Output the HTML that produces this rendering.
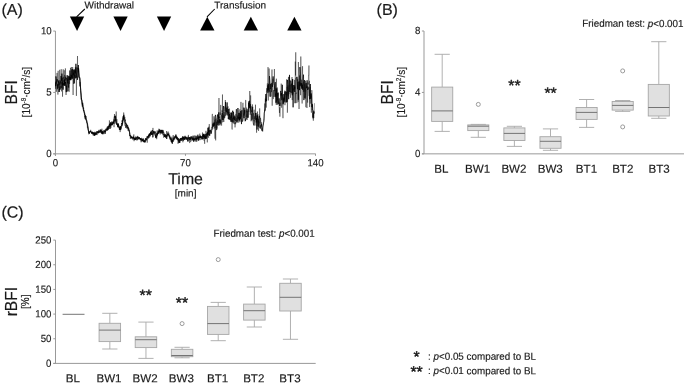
<!DOCTYPE html>
<html lang="en">
<head>
<meta charset="utf-8">
<title>Figure</title>
<style>
html,body{margin:0;padding:0;background:#fff;}
body{width:685px;height:385px;overflow:hidden;}
svg{display:block;font-family:"Liberation Sans",sans-serif;}
text{stroke:#1a1a1a;stroke-width:0.17px;stroke-linejoin:round;}
text.st{stroke-width:0.42px;}
text.sm{stroke-width:0.15px;}
</style>
</head>
<body>
<svg width="685" height="385" viewBox="0 0 685 385">
<rect width="685" height="385" fill="#fff"/>
<text transform="translate(1.40 14.90) rotate(0.04)" font-size="16" text-anchor="start" fill="#1a1a1a" >(A)</text>
<line x1="55.45" y1="31.05" x2="55.45" y2="155.85" stroke="#999" stroke-width="1"/>
<line x1="53.25" y1="153.85" x2="315.7" y2="153.85" stroke="#999" stroke-width="1"/>
<line x1="53.25" y1="153.85" x2="55.45" y2="153.85" stroke="#999" stroke-width="1"/>
<text transform="translate(51.70 157.00) rotate(0.04) scale(0.94 1)" font-size="10.3" text-anchor="end" fill="#1a1a1a" class="sm">0</text>
<line x1="53.25" y1="92.44999999999999" x2="55.45" y2="92.44999999999999" stroke="#999" stroke-width="1"/>
<text transform="translate(51.70 95.60) rotate(0.04) scale(0.94 1)" font-size="10.3" text-anchor="end" fill="#1a1a1a" class="sm">5</text>
<line x1="53.25" y1="31.049999999999997" x2="55.45" y2="31.049999999999997" stroke="#999" stroke-width="1"/>
<text transform="translate(51.70 34.20) rotate(0.04) scale(0.94 1)" font-size="10.3" text-anchor="end" fill="#1a1a1a" class="sm">10</text>
<line x1="55.45" y1="153.85" x2="55.45" y2="155.85" stroke="#999" stroke-width="1"/>
<text transform="translate(55.45 166.20) rotate(0.04) scale(0.94 1)" font-size="10.3" text-anchor="middle" fill="#1a1a1a" class="sm">0</text>
<line x1="185.47500000000002" y1="153.85" x2="185.47500000000002" y2="155.85" stroke="#999" stroke-width="1"/>
<text transform="translate(185.48 166.20) rotate(0.04) scale(0.94 1)" font-size="10.3" text-anchor="middle" fill="#1a1a1a" class="sm">70</text>
<line x1="315.5" y1="153.85" x2="315.5" y2="155.85" stroke="#999" stroke-width="1"/>
<text transform="translate(315.50 166.20) rotate(0.04) scale(0.94 1)" font-size="10.3" text-anchor="middle" fill="#1a1a1a" class="sm">140</text>
<polygon points="69.89999999999999,16.6 84.2,16.6 77.05,30.9" fill="#000"/>
<polygon points="113.39999999999999,16.6 127.7,16.6 120.55,30.9" fill="#000"/>
<polygon points="156.9,16.6 171.20000000000002,16.6 164.05,30.9" fill="#000"/>
<polygon points="200.15,30.6 214.45000000000002,30.6 207.3,16.8" fill="#000"/>
<polygon points="243.7,30.6 258.0,30.6 250.85,16.8" fill="#000"/>
<polygon points="287.25,30.6 301.54999999999995,30.6 294.4,16.8" fill="#000"/>
<line x1="76.6" y1="16.9" x2="84.8" y2="9.0" stroke="#000" stroke-width="1.05"/>
<line x1="207.0" y1="16.9" x2="214.7" y2="9.0" stroke="#000" stroke-width="1.05"/>
<text transform="translate(84.50 8.50) rotate(0.04)" font-size="10.0" text-anchor="start" fill="#1a1a1a" >Withdrawal</text>
<text transform="translate(214.30 8.50) rotate(0.04)" font-size="10.0" text-anchor="start" fill="#1a1a1a" >Transfusion</text>
<text transform="translate(17.1 92.4) rotate(-90)" font-size="15.6" text-anchor="middle" fill="#1a1a1a" >BFI</text>
<text transform="translate(29.9 92.2) rotate(-90)" font-size="10.0" text-anchor="middle" fill="#1a1a1a" >[10<tspan font-size="6.4" dy="-3.7">-9</tspan><tspan dy="3.7">·cm</tspan><tspan font-size="6.4" dy="-3.7">2</tspan><tspan dy="3.7">/s]</tspan></text>
<text transform="translate(185.60 184.20) rotate(0.04)" font-size="15.9" text-anchor="middle" fill="#1a1a1a" >Time</text>
<text transform="translate(185.60 196.50) rotate(0.04)" font-size="10.0" text-anchor="middle" fill="#1a1a1a" >[min]</text>
<polyline points="55.50,88.8 55.80,82.4 56.10,81.8 56.40,82.0 56.70,84.1 57.00,84.1 57.30,89.2 57.60,84.4 57.90,87.9 58.20,81.3 58.50,82.4 58.80,83.1 59.10,82.4 59.40,87.0 59.70,89.9 60.00,87.6 60.30,86.8 60.60,86.9 60.90,86.5 61.20,87.8 61.50,87.5 61.80,85.2 62.10,81.8 62.40,84.8 62.70,84.1 63.00,85.3 63.30,83.0 63.60,84.8 63.90,84.4 64.20,84.9 64.50,83.1 64.80,83.6 65.10,80.0 65.40,79.1 65.70,76.7 66.00,79.6 66.30,79.1 66.60,78.3 66.90,78.6 67.20,75.0 67.50,81.7 67.80,82.8 68.10,78.7 68.40,75.8 68.70,78.7 69.00,79.4 69.30,76.1 69.60,77.1 69.90,79.5 70.20,77.3 70.50,77.4 70.80,80.2 71.10,75.5 71.40,74.8 71.70,77.8 72.00,75.1 72.30,79.1 72.60,69.1 72.90,70.2 73.20,74.2 73.50,74.6 73.80,71.5 74.10,70.1 74.40,73.4 74.70,76.7 75.00,71.0 75.30,72.5 75.60,70.8 75.90,68.1 76.20,74.0 76.50,77.7 76.80,73.7 77.10,73.8 77.40,71.5 77.70,70.2 78.00,68.1 78.30,72.3 78.60,68.4 78.90,72.3 79.20,75.9 79.50,78.0 79.80,78.2 80.10,83.0 80.40,86.3 80.70,90.7 81.00,93.9 81.30,98.7 81.60,100.8 81.90,101.9 82.20,104.2 82.50,104.1 82.80,106.9 83.10,107.7 83.40,109.5 83.70,110.7 84.00,111.7 84.30,112.7 84.60,114.8 84.90,115.2 85.20,117.9 85.50,117.9 85.80,117.8 86.10,119.3 86.40,120.8 86.70,121.9 87.00,123.5 87.30,123.6 87.60,126.1 87.90,127.2 88.20,129.5 88.50,131.1 88.80,134.2 89.10,134.0 89.40,133.3 89.70,132.3 90.00,131.3 90.30,131.9 90.60,131.2 90.90,131.4 91.20,132.5 91.50,133.5 91.80,132.4 92.10,133.7 92.40,131.8 92.70,133.4 93.00,134.2 93.30,133.2 93.60,133.2 93.90,134.3 94.20,133.3 94.50,134.6 94.80,133.4 95.10,135.0 95.40,134.2 95.70,133.8 96.00,133.0 96.30,134.6 96.60,133.4 96.90,132.5 97.20,132.9 97.50,131.6 97.80,133.1 98.10,132.9 98.40,131.1 98.70,131.6 99.00,131.8 99.30,130.7 99.60,130.8 99.90,132.0 100.20,132.3 100.50,131.1 100.80,130.6 101.10,130.7 101.40,132.4 101.70,131.9 102.00,132.2 102.30,133.1 102.60,131.7 102.90,133.7 103.20,131.7 103.50,132.2 103.80,132.3 104.10,132.3 104.40,131.4 104.70,131.4 105.00,132.1 105.30,131.7 105.60,131.9 105.90,130.5 106.20,130.4 106.50,129.5 106.80,128.8 107.10,129.2 107.40,127.5 107.70,129.8 108.00,129.1 108.30,128.9 108.60,126.4 108.90,126.2 109.20,127.2 109.50,125.1 109.80,123.6 110.10,125.4 110.40,122.8 110.70,122.4 111.00,123.0 111.30,125.4 111.60,123.9 111.90,122.4 112.20,124.7 112.50,122.7 112.80,123.0 113.10,122.9 113.40,122.0 113.70,123.7 114.00,122.5 114.30,120.4 114.60,120.4 114.90,119.7 115.20,121.3 115.50,118.6 115.80,120.0 116.10,120.7 116.40,122.5 116.70,124.5 117.00,124.0 117.30,124.9 117.60,126.4 117.90,124.0 118.20,126.6 118.50,127.0 118.80,127.4 119.10,128.0 119.40,129.7 119.70,127.4 120.00,127.8 120.30,128.6 120.60,127.3 120.90,128.7 121.20,128.2 121.50,126.6 121.80,125.2 122.10,126.2 122.40,123.5 122.70,123.1 123.00,120.1 123.30,119.1 123.60,117.2 123.90,114.8 124.20,117.7 124.50,118.5 124.80,120.1 125.10,121.9 125.40,123.3 125.70,124.2 126.00,124.1 126.30,123.6 126.60,124.6 126.90,125.1 127.20,125.7 127.50,125.6 127.80,126.0 128.10,128.3 128.40,128.8 128.70,129.7 129.00,130.5 129.30,131.1 129.60,132.7 129.90,134.7 130.20,136.0 130.50,136.0 130.80,137.0 131.10,137.8 131.40,137.0 131.70,137.6 132.00,137.2 132.30,137.7 132.60,137.5 132.90,138.3 133.20,137.8 133.50,137.0 133.80,139.2 134.10,138.8 134.40,138.7 134.70,139.7 135.00,138.2 135.30,139.1 135.60,139.8 135.90,138.9 136.20,140.3 136.50,140.0 136.80,139.4 137.10,139.1 137.40,139.5 137.70,139.3 138.00,138.2 138.30,138.5 138.60,137.9 138.90,138.6 139.20,138.5 139.50,139.0 139.80,139.0 140.10,138.5 140.40,138.2 140.70,140.1 141.00,140.3 141.30,138.8 141.60,138.6 141.90,139.1 142.20,140.4 142.50,139.9 142.80,141.2 143.10,139.7 143.40,139.8 143.70,140.4 144.00,141.6 144.30,142.2 144.60,140.4 144.90,141.2 145.20,141.2 145.50,140.2 145.80,139.4 146.10,140.0 146.40,138.8 146.70,138.8 147.00,137.5 147.30,137.8 147.60,138.0 147.90,137.7 148.20,136.4 148.50,136.3 148.80,134.6 149.10,135.6 149.40,133.5 149.70,134.5 150.00,133.5 150.30,134.0 150.60,132.4 150.90,133.5 151.20,133.1 151.50,134.5 151.80,134.9 152.10,133.8 152.40,133.5 152.70,134.6 153.00,132.9 153.30,133.0 153.60,132.4 153.90,131.4 154.20,132.5 154.50,132.5 154.80,133.7 155.10,133.8 155.40,134.9 155.70,137.0 156.00,135.6 156.30,135.4 156.60,134.9 156.90,133.5 157.20,134.3 157.50,132.8 157.80,133.5 158.10,132.9 158.40,131.5 158.70,131.8 159.00,132.1 159.30,131.0 159.60,131.3 159.90,131.5 160.20,131.1 160.50,131.5 160.80,130.2 161.10,131.2 161.40,131.8 161.70,129.9 162.00,130.7 162.30,130.8 162.60,131.1 162.90,130.2 163.20,130.2 163.50,132.8 163.80,132.4 164.10,134.3 164.40,134.1 164.70,134.5 165.00,135.6 165.30,135.8 165.60,137.7 165.90,136.8 166.20,135.0 166.50,137.1 166.80,136.9 167.10,136.0 167.40,134.4 167.70,134.1 168.00,134.0 168.30,135.0 168.60,134.6 168.90,135.7 169.20,135.9 169.50,135.8 169.80,138.1 170.10,139.5 170.40,138.5 170.70,138.5 171.00,139.4 171.30,140.3 171.60,140.8 171.90,142.4 172.20,141.7 172.50,140.4 172.80,141.3 173.10,140.6 173.40,139.9 173.70,139.5 174.00,140.2 174.30,138.9 174.60,138.1 174.90,137.4 175.20,136.8 175.50,136.9 175.80,136.4 176.10,137.5 176.40,136.6 176.70,138.3 177.00,136.7 177.30,139.2 177.60,139.9 177.90,138.9 178.20,140.8 178.50,139.9 178.80,143.0 179.10,141.7 179.40,141.4 179.70,140.5 180.00,140.4 180.30,139.8 180.60,140.6 180.90,139.4 181.20,139.7 181.50,138.3 181.80,138.4 182.10,137.5 182.40,137.5 182.70,136.3 183.00,137.5 183.30,137.3 183.60,137.5 183.90,138.2 184.20,137.8 184.50,139.7 184.80,139.5 185.10,138.2 185.40,136.8 185.70,138.4 186.00,137.7 186.30,137.5 186.60,138.1 186.90,137.9 187.20,137.4 187.50,137.4 187.80,137.5 188.10,136.7 188.40,137.9 188.70,138.3 189.00,138.3 189.30,137.1 189.60,137.8 189.90,138.6 190.20,137.9 190.50,137.1 190.80,139.0 191.10,138.6 191.40,137.7 191.70,137.2 192.00,136.8 192.30,138.4 192.60,139.6 192.90,140.3 193.20,139.0 193.50,140.1 193.80,139.5 194.10,138.8 194.40,140.0 194.70,140.2 195.00,138.6 195.30,138.3 195.60,138.6 195.90,138.8 196.20,138.3 196.50,138.0 196.80,138.8 197.10,138.3 197.40,138.8 197.70,137.1 198.00,136.4 198.30,138.3 198.60,138.5 198.90,140.2 199.20,138.8 199.50,138.4 199.80,137.7 200.10,136.1 200.40,136.6 200.70,138.0 201.00,136.8 201.30,136.1 201.60,137.2 201.90,137.1 202.20,137.4 202.50,139.2 202.80,138.1 203.10,133.9 203.40,136.8 203.70,134.7 204.00,136.4 204.30,136.3 204.60,136.3 204.90,134.3 205.20,139.2 205.50,136.5 205.80,137.5 206.10,138.3 206.40,137.6 206.70,135.2 207.00,132.6 207.30,134.5 207.60,132.2 207.90,132.9 208.20,134.8 208.50,131.1 208.80,130.8" fill="none" stroke="#000" stroke-width="0.62" stroke-linejoin="round"/>
<polyline points="55.50,86.4 55.90,76.4 56.30,78.3 56.70,82.2 57.10,79.2 57.50,79.9 57.90,81.2 58.30,81.3 58.70,80.7 59.10,92.0 59.50,89.2 59.90,89.6 60.30,83.8 60.70,81.0 61.10,76.0 61.50,80.6 61.90,73.6 62.30,79.9 62.70,86.4 63.10,89.7 63.50,86.7 63.90,79.9 64.30,85.8 64.70,79.4 65.10,85.8 65.50,82.0 65.90,87.4 66.30,92.1 66.70,85.8 67.10,91.5 67.50,81.4 67.90,78.5 68.30,86.0 68.70,87.6 69.10,77.2 69.50,79.9 69.90,70.5 70.30,76.5 70.70,80.1 71.10,74.4 71.50,72.6 71.90,69.4 72.30,76.7 72.70,77.6 73.10,76.8 73.50,75.2 73.90,69.6 74.30,83.4 74.70,75.0 75.10,75.1 75.50,78.3 75.90,63.8 76.30,73.8 76.70,74.0 77.10,76.0 77.50,79.8 77.90,75.9 78.30,65.0 78.70,72.7 79.10,76.7 79.50,77.2 79.90,77.8 80.30,83.0 80.70,90.9 81.10,95.1 81.50,99.4 81.90,99.8 82.30,105.4 82.70,102.8 83.10,106.4 83.50,110.9 83.90,110.4 84.30,112.9 84.70,112.8 85.10,116.9 85.50,115.5 85.90,118.7 86.30,120.0 86.70,120.2 87.10,123.2 87.50,123.3 87.90,126.7 88.30,129.9 88.70,132.2 89.10,133.4 89.50,133.3 89.90,131.5 90.30,130.9 90.70,131.5 91.10,131.6 91.50,133.0 91.90,132.2 92.30,133.2 92.70,133.1 93.10,132.4 93.50,134.1 93.90,132.5 94.30,134.2 94.70,136.0 95.10,133.1 95.50,133.7 95.90,131.9 96.30,132.6 96.70,131.4 97.10,132.1 97.50,131.6 97.90,132.0 98.30,133.3 98.70,131.7 99.10,132.3 99.50,131.9 99.90,131.9 100.30,130.8 100.70,129.7 101.10,131.7 101.50,133.6 101.90,132.0 102.30,131.3 102.70,134.1 103.10,131.6 103.50,131.2 103.90,130.2 104.30,130.2 104.70,130.9 105.10,133.9 105.50,130.7 105.90,129.4 106.30,129.6 106.70,130.2 107.10,127.6 107.50,130.2 107.90,130.1 108.30,128.9 108.70,128.6 109.10,125.3 109.50,124.1 109.90,129.0 110.30,127.9 110.70,122.6 111.10,125.2 111.50,124.0 111.90,124.9 112.30,124.7 112.70,122.6 113.10,123.2 113.50,122.2 113.90,120.7 114.30,116.8 114.70,115.9 115.10,118.1 115.50,115.8 115.90,121.1 116.30,123.4 116.70,123.2 117.10,123.2 117.50,124.9 117.90,127.3 118.30,123.7 118.70,127.4 119.10,127.4 119.50,127.4 119.90,129.9 120.30,126.2 120.70,130.1 121.10,126.4 121.50,125.8 121.90,123.2 122.30,124.6 122.70,120.8 123.10,120.0 123.50,115.6 123.90,117.7 124.30,121.4 124.70,121.3 125.10,125.9 125.50,125.5 125.90,127.9 126.30,125.9 126.70,124.2 127.10,128.6 127.50,127.3 127.90,127.2 128.30,128.1 128.70,128.4 129.10,131.3 129.50,131.9 129.90,135.8 130.30,136.4 130.70,135.5 131.10,137.4 131.50,138.1 131.90,136.9 132.30,138.5 132.70,138.3 133.10,137.4 133.50,137.4 133.90,138.6 134.30,139.7 134.70,139.8 135.10,138.4 135.50,139.5 135.90,137.8 136.30,138.9 136.70,137.4 137.10,138.7 137.50,136.9 137.90,136.8 138.30,137.9 138.70,138.6 139.10,137.1 139.50,138.2 139.90,139.0 140.30,139.4 140.70,138.4 141.10,139.6 141.50,139.5 141.90,141.4 142.30,140.8 142.70,139.0 143.10,138.4 143.50,140.6 143.90,142.0 144.30,141.0 144.70,141.6 145.10,140.0 145.50,138.2 145.90,140.1 146.30,139.0 146.70,139.0 147.10,136.3 147.50,137.7 147.90,135.9 148.30,137.3 148.70,135.1 149.10,134.8 149.50,134.1 149.90,136.5 150.30,134.6 150.70,132.8 151.10,131.9 151.50,131.5 151.90,134.6 152.30,130.1 152.70,131.0 153.10,132.4 153.50,132.5 153.90,130.9 154.30,133.7 154.70,134.4 155.10,135.5 155.50,135.1 155.90,138.1 156.30,136.1 156.70,137.2 157.10,133.1 157.50,135.4 157.90,131.9 158.30,130.6 158.70,133.4 159.10,130.9 159.50,132.1 159.90,129.6 160.30,133.2 160.70,131.2 161.10,130.0 161.50,132.0 161.90,133.3 162.30,131.1 162.70,132.8 163.10,135.2 163.50,134.3 163.90,133.9 164.30,134.1 164.70,136.9 165.10,134.9 165.50,134.3 165.90,136.2 166.30,135.7 166.70,139.0 167.10,136.3 167.50,134.2 167.90,133.9 168.30,135.2 168.70,134.2 169.10,135.6 169.50,136.6 169.90,138.0 170.30,138.7 170.70,139.2 171.10,141.5 171.50,142.3 171.90,138.4 172.30,143.8 172.70,140.3 173.10,141.7 173.50,138.4 173.90,139.5 174.30,138.8 174.70,137.4 175.10,137.8 175.50,137.1 175.90,134.5 176.30,136.1 176.70,138.1 177.10,138.7 177.50,137.7 177.90,138.4 178.30,139.6 178.70,139.0 179.10,139.0 179.50,142.8 179.90,139.8 180.30,139.7 180.70,138.0 181.10,140.3 181.50,140.9 181.90,138.2 182.30,139.3 182.70,137.5 183.10,140.9 183.50,139.6 183.90,137.2 184.30,139.7 184.70,138.2 185.10,138.4 185.50,138.2 185.90,136.7 186.30,137.3 186.70,138.9 187.10,138.9 187.50,137.8 187.90,141.6 188.30,138.7 188.70,138.2 189.10,137.8 189.50,139.9 189.90,140.1 190.30,138.3 190.70,139.5 191.10,136.2 191.50,138.2 191.90,137.9 192.30,138.3 192.70,139.5 193.10,135.7 193.50,141.6 193.90,137.8 194.30,139.5 194.70,140.1 195.10,140.1 195.50,139.4 195.90,135.7 196.30,137.4 196.70,140.1 197.10,138.0 197.50,137.3 197.90,134.7 198.30,140.7 198.70,139.1 199.10,136.5 199.50,137.7 199.90,138.0 200.30,135.5 200.70,136.9 201.10,136.9 201.50,137.2 201.90,139.4 202.30,136.6 202.70,135.4 203.10,136.8 203.50,135.0 203.90,133.8 204.30,138.5 204.70,135.6 205.10,136.8 205.50,138.3 205.90,134.1 206.30,138.7 206.70,138.0 207.10,135.8 207.50,136.1 207.90,132.2 208.30,127.7 208.70,132.3 209.10,130.2 209.50,135.4 209.90,133.5 210.30,130.3 210.70,131.2 211.10,133.5 211.50,132.1 211.90,128.8 212.30,128.1 212.70,124.6 213.10,123.9 213.50,126.4 213.90,122.7 214.30,125.6 214.70,119.5 215.10,116.4 215.50,114.9 215.90,120.6 216.30,130.1 216.70,129.7 217.10,117.3 217.50,114.5 217.90,125.0 218.30,122.4 218.70,112.4 219.10,123.3 219.50,119.3 219.90,125.3 220.30,119.6 220.70,123.6 221.10,120.9 221.50,115.3 221.90,115.3 222.30,112.7 222.70,119.9 223.10,109.3 223.50,106.0 223.90,116.5 224.30,118.2 224.70,117.9 225.10,115.0 225.50,102.0 225.90,107.8 226.30,109.1 226.70,112.3 227.10,102.4 227.50,114.6 227.90,115.5 228.30,109.0 228.70,114.9 229.10,119.6 229.50,113.9 229.90,119.5 230.30,120.2 230.70,116.6 231.10,117.7 231.50,112.6 231.90,121.7 232.30,112.2 232.70,110.7 233.10,118.9 233.50,111.8 233.90,117.1 234.30,120.2 234.70,116.3 235.10,116.6 235.50,120.8 235.90,121.1 236.30,109.2 236.70,109.9 237.10,122.5 237.50,119.2 237.90,108.0 238.30,112.5 238.70,118.7 239.10,112.9 239.50,120.0 239.90,117.0 240.30,119.2 240.70,111.1 241.10,118.3 241.50,124.1 241.90,110.2 242.30,121.5 242.70,121.4 243.10,118.6 243.50,115.0 243.90,107.6 244.30,109.6 244.70,118.0 245.10,118.4 245.50,120.9 245.90,118.7 246.30,119.0 246.70,113.4 247.10,109.3 247.50,117.0 247.90,117.9 248.30,112.9 248.70,102.7 249.10,106.7 249.50,100.8 249.90,108.2 250.30,104.2 250.70,110.0 251.10,113.5 251.50,113.9 251.90,120.3 252.30,110.7 252.70,106.8 253.10,121.5 253.50,124.4 253.90,125.4 254.30,120.5 254.70,120.3 255.10,119.3 255.50,113.0 255.90,117.7 256.30,122.5 256.70,118.1 257.10,129.5 257.50,115.5 257.90,120.3 258.30,126.7 258.70,119.3 259.10,116.6 259.50,115.8 259.90,118.7 260.30,128.6 260.70,125.4 261.10,125.7 261.50,124.2 261.90,130.7 262.30,130.9 262.70,127.0 263.10,125.1 263.50,122.9 263.90,121.2 264.30,113.1 264.70,109.8 265.10,109.9 265.50,98.1 265.90,94.0 266.30,101.1 266.70,95.8 267.10,90.8 267.50,90.7 267.90,85.4 268.30,90.0 268.70,83.8 269.10,91.6 269.50,76.1 269.90,80.3 270.30,88.9 270.70,83.8 271.10,92.1 271.50,86.8 271.90,83.8 272.30,86.9 272.70,84.3 273.10,76.4 273.50,81.2 273.90,83.5 274.30,85.3 274.70,89.3 275.10,96.6 275.50,93.6 275.90,102.7 276.30,99.7 276.70,88.6 277.10,104.7 277.50,103.4 277.90,93.1 278.30,100.2 278.70,104.2 279.10,98.4 279.50,106.1 279.90,102.8 280.30,101.7 280.70,90.9 281.10,95.5 281.50,93.1 281.90,100.2 282.30,84.8 282.70,99.3 283.10,104.3 283.50,100.4 283.90,97.6 284.30,101.7 284.70,92.9 285.10,91.7 285.50,94.4 285.90,94.2 286.30,102.4 286.70,91.8 287.10,101.9 287.50,79.9 287.90,84.0 288.30,89.5 288.70,99.2 289.10,87.7 289.50,74.9 289.90,91.9 290.30,90.3 290.70,80.6 291.10,82.2 291.50,84.0 291.90,90.7 292.30,95.3 292.70,79.2 293.10,107.3 293.50,87.8 293.90,85.0 294.30,91.9 294.70,86.5 295.10,103.2 295.50,92.5 295.90,78.1 296.30,77.3 296.70,77.4 297.10,81.2 297.50,89.2 297.90,81.8 298.30,99.8 298.70,84.9 299.10,81.4 299.50,90.1 299.90,67.1 300.30,71.9 300.70,85.7 301.10,83.1 301.50,84.0 301.90,88.5 302.30,84.7 302.70,89.8 303.10,78.6 303.50,74.7 303.90,100.1 304.30,82.1 304.70,80.0 305.10,98.6 305.50,95.2 305.90,83.1 306.30,83.1 306.70,88.2 307.10,80.3 307.50,90.0 307.90,86.6 308.30,87.3 308.70,89.6 309.10,90.2 309.50,99.2 309.90,97.9 310.30,84.0 310.70,98.9 311.10,93.4 311.50,94.7 311.90,107.1 312.30,103.9 312.70,108.6 313.10,118.3 313.50,113.4 313.90,111.4 314.30,113.7" fill="none" stroke="#000" stroke-width="0.72" stroke-linejoin="round"/>
<polyline points="55.50,85.5 55.72,82.8 55.94,86.0 56.16,81.4 56.38,91.8 56.60,88.8 56.82,85.8 57.04,72.9 57.26,83.0 57.48,83.8 57.70,84.8 57.92,94.6 58.14,70.8 58.36,85.5 58.58,84.7 58.80,83.6 59.02,91.9 59.24,80.3 59.46,84.8 59.68,69.8 59.90,76.5 60.12,84.3 60.34,89.2 60.56,80.6 60.78,82.8 61.00,84.1 61.22,69.2 61.44,91.4 61.66,83.1 61.88,77.6 62.10,88.5 62.32,77.8 62.54,96.7 62.76,79.6 62.98,72.3 63.20,69.3 63.42,79.7 63.64,76.8 63.86,82.7 64.08,73.7 64.30,70.3 64.52,84.0 64.74,74.9 64.96,81.5 65.18,79.5 65.40,68.4 65.62,74.3 65.84,80.3 66.06,95.0 66.28,78.0 66.50,87.1 66.72,79.5 66.94,80.5 67.16,80.6 67.38,78.1 67.60,76.3 67.82,83.6 68.04,82.4 68.26,91.2 68.48,78.8 68.70,81.0 68.92,81.9 69.14,91.8 69.36,77.6 69.58,83.9 69.80,77.5 70.02,77.9 70.24,78.9 70.46,67.9 70.68,70.5 70.90,76.5 71.12,79.3 71.34,67.0 71.56,78.9 71.78,77.5 72.00,74.3 72.22,74.1 72.44,74.9 72.66,67.0 72.88,73.4 73.10,95.0 73.32,73.1 73.54,83.9 73.76,77.8 73.98,77.1 74.20,78.0 74.42,73.9 74.64,69.3 74.86,73.5 75.08,74.7 75.30,67.0 75.52,67.0 75.74,73.4 75.96,69.7 76.18,72.7 76.40,95.9 76.62,78.7 76.84,67.0 77.06,67.0 77.28,69.3 77.50,56.0 77.72,75.1 77.94,77.6 78.16,76.8 78.38,70.4 78.60,68.7 78.82,74.9 79.04,77.9 79.26,77.8 79.48,77.6 79.70,86.4 79.92,82.0 80.14,82.2 80.36,84.4 80.58,88.1 80.80,92.7 81.02,94.2 81.24,99.7 81.46,98.0 81.68,100.5 81.90,100.2 82.12,104.2 82.34,106.9 82.56,103.8 82.78,105.9 83.00,107.5 83.22,107.5 83.44,108.9 83.66,107.8 83.88,110.3 84.10,111.6 84.32,112.7 84.54,114.9 84.76,114.3 84.98,118.8 85.20,116.4 85.42,119.5 85.64,118.4 85.86,118.0 86.08,116.0 86.30,120.7 86.52,121.2 86.74,120.7 86.96,122.9 87.18,124.9 87.40,127.6 87.62,126.5 87.84,128.2 88.06,129.7 88.28,129.8 88.50,131.1 88.72,133.0 88.94,132.7 89.16,132.8 89.38,131.9 89.60,132.3 89.82,132.0 90.04,131.1 90.26,131.6 90.48,132.0 90.70,129.8 90.92,131.5 91.14,131.5 91.36,132.2 91.58,132.3 91.80,133.2 92.02,132.1 92.24,131.8 92.46,134.0 92.68,134.4 92.90,133.5 93.12,132.3 93.34,135.9 93.56,133.2 93.78,133.1 94.00,134.3 94.22,134.9 94.44,131.8 94.66,134.6 94.88,135.0 95.10,132.5 95.32,135.1 95.54,133.8 95.76,134.3 95.98,132.7 96.20,132.9 96.42,133.3 96.64,134.6 96.86,132.6 97.08,135.1 97.30,133.0 97.52,131.8 97.74,132.2 97.96,132.2 98.18,132.6 98.40,132.9 98.62,129.9 98.84,131.1 99.06,131.4 99.28,131.2 99.50,132.7 99.72,133.0 99.94,130.8 100.16,129.4 100.38,132.3 100.60,131.5 100.82,130.6 101.04,129.8 101.26,133.2 101.48,130.5 101.70,131.1 101.92,128.7 102.14,133.5 102.36,134.3 102.58,133.8 102.80,132.6 103.02,130.8 103.24,131.3 103.46,133.5 103.68,134.2 103.90,134.2 104.12,133.2 104.34,131.1 104.56,131.3 104.78,132.2 105.00,130.5 105.22,132.1 105.44,128.8 105.66,128.9 105.88,130.3 106.10,130.3 106.32,130.7 106.54,130.1 106.76,130.0 106.98,129.0 107.20,130.6 107.42,126.1 107.64,128.4 107.86,128.1 108.08,127.0 108.30,126.4 108.52,129.2 108.74,127.4 108.96,125.6 109.18,127.3 109.40,120.4 109.62,123.6 109.84,124.4 110.06,126.4 110.28,124.6 110.50,124.3 110.72,124.1 110.94,127.8 111.16,123.1 111.38,121.5 111.60,121.6 111.82,123.1 112.04,123.1 112.26,124.4 112.48,125.3 112.70,124.0 112.92,121.2 113.14,123.5 113.36,122.8 113.58,122.0 113.80,119.4 114.02,127.2 114.24,122.8 114.46,114.0 114.68,120.1 114.90,123.8 115.12,123.2 115.34,122.3 115.56,117.0 115.78,120.8 116.00,120.5 116.22,111.5 116.44,123.1 116.66,124.6 116.88,119.2 117.10,122.2 117.32,124.2 117.54,125.4 117.76,126.3 117.98,123.1 118.20,124.2 118.42,126.9 118.64,126.1 118.86,126.3 119.08,125.6 119.30,127.3 119.52,126.7 119.74,129.5 119.96,130.4 120.18,132.1 120.40,126.6 120.62,129.3 120.84,128.7 121.06,127.0 121.28,125.2 121.50,123.2 121.72,124.0 121.94,120.6 122.16,121.6 122.38,120.1 122.60,124.2 122.82,116.4 123.04,120.5 123.26,118.0 123.48,119.5 123.70,112.5 123.92,116.8 124.14,116.7 124.36,119.3 124.58,119.1 124.80,116.9 125.02,120.3 125.24,121.1 125.46,119.6 125.68,124.4 125.90,122.6 126.12,124.7 126.34,126.6 126.56,126.5 126.78,126.3 127.00,125.8 127.22,127.7 127.44,127.2 127.66,125.1 127.88,129.6 128.10,130.8 128.32,127.3 128.54,129.7 128.76,128.3 128.98,130.6 129.20,131.1 129.42,130.3 129.64,132.5 129.86,136.0 130.08,135.1 130.30,138.7 130.52,137.3 130.74,138.1 130.96,138.8 131.18,138.0 131.40,136.0 131.62,136.7 131.84,138.2 132.06,136.7 132.28,138.2 132.50,139.6 132.72,139.5 132.94,139.3 133.16,139.4 133.38,135.8 133.60,138.2 133.82,134.4 134.04,141.2 134.26,138.4 134.48,138.9 134.70,137.3 134.92,137.2 135.14,139.3 135.36,137.2 135.58,138.4 135.80,136.3 136.02,136.4 136.24,137.5 136.46,137.6 136.68,136.9 136.90,137.2 137.12,138.7 137.34,140.3 137.56,135.9 137.78,138.3 138.00,137.2 138.22,137.7 138.44,136.7 138.66,138.3 138.88,139.7 139.10,137.5 139.32,137.2 139.54,138.0 139.76,138.8 139.98,139.2 140.20,138.2 140.42,140.0 140.64,139.6 140.86,140.3 141.08,142.3 141.30,138.3 141.52,137.8 141.74,139.1 141.96,139.5 142.18,140.9 142.40,139.5 142.62,140.6 142.84,141.1 143.06,138.9 143.28,140.6 143.50,142.0 143.72,141.7 143.94,142.4 144.16,141.6 144.38,140.2 144.60,141.5 144.82,142.0 145.04,142.9 145.26,140.4 145.48,142.0 145.70,140.6 145.92,140.1 146.14,139.7 146.36,139.3 146.58,140.5 146.80,139.8 147.02,138.4 147.24,142.7 147.46,138.6 147.68,139.1 147.90,138.2 148.12,137.6 148.34,137.1 148.56,138.5 148.78,136.6 149.00,135.0 149.22,137.9 149.44,134.1 149.66,135.8 149.88,134.4 150.10,133.6 150.32,135.5 150.54,131.7 150.76,134.5 150.98,133.9 151.20,130.6 151.42,134.7 151.64,132.7 151.86,133.0 152.08,132.6 152.30,132.3 152.52,137.4 152.74,132.8 152.96,127.9 153.18,137.3 153.40,132.6 153.62,132.7 153.84,134.2 154.06,133.8 154.28,133.0 154.50,132.1 154.72,132.8 154.94,131.3 155.16,131.8 155.38,133.7 155.60,131.6 155.82,137.8 156.04,134.0 156.26,135.2 156.48,135.0 156.70,139.2 156.92,134.7 157.14,130.4 157.36,134.0 157.58,134.1 157.80,133.6 158.02,132.8 158.24,132.9 158.46,132.8 158.68,133.8 158.90,128.7 159.12,133.0 159.34,129.2 159.56,131.0 159.78,130.4 160.00,132.5 160.22,134.5 160.44,133.0 160.66,131.9 160.88,132.2 161.10,132.8 161.32,133.1 161.54,130.3 161.76,129.9 161.98,134.0 162.20,133.6 162.42,129.9 162.64,133.0 162.86,130.9 163.08,131.4 163.30,132.0 163.52,133.5 163.74,137.8 163.96,135.0 164.18,136.1 164.40,136.9 164.62,134.8 164.84,136.9 165.06,135.1 165.28,136.6 165.50,136.5 165.72,137.2 165.94,135.5 166.16,136.0 166.38,135.3 166.60,131.0 166.82,135.9 167.04,136.2 167.26,135.1 167.48,134.8 167.70,132.5 167.92,135.2 168.14,131.5 168.36,134.5 168.58,135.4 168.80,132.9 169.02,137.1 169.24,135.6 169.46,135.7 169.68,136.1 169.90,135.7 170.12,138.4 170.34,136.7 170.56,139.5 170.78,137.7 171.00,138.5 171.22,139.9 171.44,141.4 171.66,140.9 171.88,136.7 172.10,139.9 172.32,140.8 172.54,141.0 172.76,139.8 172.98,138.1 173.20,135.0 173.42,139.6 173.64,139.0 173.86,136.6 174.08,138.5 174.30,137.5 174.52,136.6 174.74,136.1 174.96,138.6 175.18,135.9 175.40,137.2 175.62,135.3 175.84,135.9 176.06,138.0 176.28,139.4 176.50,137.8 176.72,137.1 176.94,139.2 177.16,138.9 177.38,139.5 177.60,137.7 177.82,138.9 178.04,143.8 178.26,141.7 178.48,138.1 178.70,140.2 178.92,142.0 179.14,140.6 179.36,140.8 179.58,138.8 179.80,139.0 180.02,142.8 180.24,138.5 180.46,138.9 180.68,139.5 180.90,139.4 181.12,139.3 181.34,137.9 181.56,138.9 181.78,138.1 182.00,139.3 182.22,139.8 182.44,138.7 182.66,137.3 182.88,142.3 183.10,136.5 183.32,137.8 183.54,139.5 183.76,137.5 183.98,139.0 184.20,138.0 184.42,136.2 184.64,138.1 184.86,138.0 185.08,135.7 185.30,137.6 185.52,137.3 185.74,139.6 185.96,139.8 186.18,137.7 186.40,140.0 186.62,137.9 186.84,138.6 187.06,138.8 187.28,138.9 187.50,140.6 187.72,138.2 187.94,140.5 188.16,141.1 188.38,134.9 188.60,137.9 188.82,138.9 189.04,138.1 189.26,137.4 189.48,140.8 189.70,143.1 189.92,137.3 190.14,139.6 190.36,139.2 190.58,142.0 190.80,141.7 191.02,139.6 191.24,139.1 191.46,138.5 191.68,139.3 191.90,140.8 192.12,138.3 192.34,138.0 192.56,138.4 192.78,137.4 193.00,139.6 193.22,139.0 193.44,138.8 193.66,140.0 193.88,139.6 194.10,138.9 194.32,138.0 194.54,135.5 194.76,139.9 194.98,141.7 195.20,138.1 195.42,138.2 195.64,137.7 195.86,141.3 196.08,140.1 196.30,136.4 196.52,138.0 196.74,141.9 196.96,139.1 197.18,139.1 197.40,139.2 197.62,138.5 197.84,137.3 198.06,138.9 198.28,138.1 198.50,136.7 198.72,138.7 198.94,137.1 199.16,136.4 199.38,137.7 199.60,137.1 199.82,133.6 200.04,140.2 200.26,139.8 200.48,139.1 200.70,136.3 200.92,136.8 201.14,136.9 201.36,137.0 201.58,137.8 201.80,138.7 202.02,139.2 202.24,138.8 202.46,132.5 202.68,136.3 202.90,138.8 203.12,136.4 203.34,136.2 203.56,139.2 203.78,134.4 204.00,140.6 204.22,139.7 204.44,139.6 204.66,143.8 204.88,135.8 205.10,136.7 205.32,138.7 205.54,136.6 205.76,133.9 205.98,130.8 206.20,134.8 206.42,134.2 206.64,136.3 206.86,133.7 207.08,133.2 207.30,142.4 207.52,132.3 207.74,127.8 207.96,133.9 208.18,135.3 208.40,132.1 208.62,137.8 208.84,126.7 209.06,131.5 209.28,124.1 209.50,131.9 209.72,136.0 209.94,130.5 210.16,131.7 210.38,131.5 210.60,129.7 210.82,130.7 211.04,133.9 211.26,129.9 211.48,127.1 211.70,127.1 211.92,127.6 212.14,116.3 212.36,113.9 212.58,129.5 212.80,128.6 213.02,122.8 213.24,126.7 213.46,121.5 213.68,120.8 213.90,116.3 214.12,124.5 214.34,128.5 214.56,122.6 214.78,130.6 215.00,138.7 215.22,119.4 215.44,125.3 215.66,140.4 215.88,118.5 216.10,128.0 216.32,122.5 216.54,121.8 216.76,123.8 216.98,128.7 217.20,128.3 217.42,120.1 217.64,121.6 217.86,123.3 218.08,120.9 218.30,125.8 218.52,115.3 218.74,118.4 218.96,98.0 219.18,118.4 219.40,117.7 219.62,116.7 219.84,122.2 220.06,112.4 220.28,115.0 220.50,112.8 220.72,104.9 220.94,117.5 221.16,120.3 221.38,120.9 221.60,125.6 221.82,117.8 222.04,110.3 222.26,112.0 222.48,94.5 222.70,122.3 222.92,120.5 223.14,116.0 223.36,120.1 223.58,114.5 223.80,122.0 224.02,112.0 224.24,117.1 224.46,115.8 224.68,116.0 224.90,106.5 225.12,111.3 225.34,100.0 225.56,107.6 225.78,115.9 226.00,110.0 226.22,107.9 226.44,114.7 226.66,112.2 226.88,107.5 227.10,108.1 227.32,108.0 227.54,113.1 227.76,112.3 227.98,106.3 228.20,119.0 228.42,112.2 228.64,119.0 228.86,117.2 229.08,119.1 229.30,118.0 229.52,108.6 229.74,113.7 229.96,112.1 230.18,116.5 230.40,113.0 230.62,121.7 230.84,118.9 231.06,115.2 231.28,122.1 231.50,113.1 231.72,114.1 231.94,128.3 232.16,129.5 232.38,118.8 232.60,122.6 232.82,118.2 233.04,122.0 233.26,116.6 233.48,123.5 233.70,120.5 233.92,117.1 234.14,122.4 234.36,115.5 234.58,124.2 234.80,122.4 235.02,127.4 235.24,124.7 235.46,121.5 235.68,124.2 235.90,114.2 236.12,121.0 236.34,120.9 236.56,122.3 236.78,118.1 237.00,121.2 237.22,119.4 237.44,115.5 237.66,118.1 237.88,117.6 238.10,118.5 238.32,120.3 238.54,117.0 238.76,122.7 238.98,113.4 239.20,112.8 239.42,121.3 239.64,115.4 239.86,109.3 240.08,121.7 240.30,114.1 240.52,118.1 240.74,115.5 240.96,101.9 241.18,112.0 241.40,112.2 241.62,115.3 241.84,116.7 242.06,112.7 242.28,111.1 242.50,110.9 242.72,107.1 242.94,102.8 243.16,114.2 243.38,114.0 243.60,118.2 243.82,112.3 244.04,108.4 244.26,115.6 244.48,110.2 244.70,113.5 244.92,110.0 245.14,121.4 245.36,111.1 245.58,100.1 245.80,100.1 246.02,117.1 246.24,111.5 246.46,112.0 246.68,107.6 246.90,109.2 247.12,120.0 247.34,111.5 247.56,111.0 247.78,112.9 248.00,114.4 248.22,117.2 248.44,117.4 248.66,101.1 248.88,112.1 249.10,102.8 249.32,108.1 249.54,99.8 249.76,91.0 249.98,97.8 250.20,114.9 250.42,109.3 250.64,95.4 250.86,109.3 251.08,121.3 251.30,106.3 251.52,111.9 251.74,110.3 251.96,110.5 252.18,112.2 252.40,104.4 252.62,117.5 252.84,118.9 253.06,117.6 253.28,115.4 253.50,113.2 253.72,121.5 253.94,117.1 254.16,109.7 254.38,119.3 254.60,117.4 254.82,116.2 255.04,125.5 255.26,119.5 255.48,104.7 255.70,119.1 255.92,119.7 256.14,120.0 256.36,112.9 256.58,132.7 256.80,115.5 257.02,126.0 257.24,124.0 257.46,111.5 257.68,120.0 257.90,114.2 258.12,122.4 258.34,119.1 258.56,130.9 258.78,121.3 259.00,121.9 259.22,122.3 259.44,127.8 259.66,108.4 259.88,122.5 260.10,123.4 260.32,122.3 260.54,117.9 260.76,119.6 260.98,123.0 261.20,126.7 261.42,125.5 261.64,122.3 261.86,129.7 262.08,128.6 262.30,131.2 262.52,130.7 262.74,131.4 262.96,129.7 263.18,124.9 263.40,124.9 263.62,122.4 263.84,119.5 264.06,119.7 264.28,113.2 264.50,111.5 264.72,103.5 264.94,103.8 265.16,111.2 265.38,98.5 265.60,101.5 265.82,102.0 266.04,99.2 266.26,107.6 266.48,90.8 266.70,88.2 266.92,91.6 267.14,88.9 267.36,83.4 267.58,92.9 267.80,86.6 268.02,67.1 268.24,100.5 268.46,93.8 268.68,90.1 268.90,92.7 269.12,68.5 269.34,84.3 269.56,95.8 269.78,96.6 270.00,91.1 270.22,88.1 270.44,96.9 270.66,91.8 270.88,95.1 271.10,96.4 271.32,86.6 271.54,82.9 271.76,84.0 271.98,69.5 272.20,105.7 272.42,84.1 272.64,81.7 272.86,78.7 273.08,97.5 273.30,99.1 273.52,92.2 273.74,90.0 273.96,97.1 274.18,92.6 274.40,69.0 274.62,83.5 274.84,91.0 275.06,82.4 275.28,94.6 275.50,82.0 275.72,97.0 275.94,87.8 276.16,104.7 276.38,78.7 276.60,96.5 276.82,102.5 277.04,95.5 277.26,87.5 277.48,100.4 277.70,93.0 277.92,95.7 278.14,92.2 278.36,95.4 278.58,97.9 278.80,102.5 279.02,105.9 279.24,108.6 279.46,112.9 279.68,107.2 279.90,116.7 280.12,110.0 280.34,105.7 280.56,102.5 280.78,106.1 281.00,97.6 281.22,83.6 281.44,95.4 281.66,107.7 281.88,103.0 282.10,100.8 282.32,94.6 282.54,99.7 282.76,106.7 282.98,118.2 283.20,98.8 283.42,103.6 283.64,94.0 283.86,102.8 284.08,94.4 284.30,99.7 284.52,95.4 284.74,90.6 284.96,105.2 285.18,99.4 285.40,91.2 285.62,94.7 285.84,102.3 286.06,96.1 286.28,95.1 286.50,79.4 286.72,90.4 286.94,94.8 287.16,86.9 287.38,112.7 287.60,101.0 287.82,85.4 288.04,96.3 288.26,83.1 288.48,76.9 288.70,88.8 288.92,94.2 289.14,83.1 289.36,77.0 289.58,82.4 289.80,91.6 290.02,84.6 290.24,88.1 290.46,97.8 290.68,90.8 290.90,92.9 291.12,87.8 291.34,83.9 291.56,84.5 291.78,93.3 292.00,77.0 292.22,100.1 292.44,79.0 292.66,93.0 292.88,94.1 293.10,89.2 293.32,88.8 293.54,90.3 293.76,89.5 293.98,85.0 294.20,86.2 294.42,88.6 294.64,79.9 294.86,89.4 295.08,87.8 295.30,61.6 295.52,75.5 295.74,52.3 295.96,77.0 296.18,77.6 296.40,93.6 296.62,92.7 296.84,103.1 297.06,96.5 297.28,76.8 297.50,81.5 297.72,79.2 297.94,89.4 298.16,101.8 298.38,62.0 298.60,73.2 298.82,77.9 299.04,109.0 299.26,80.3 299.48,75.5 299.70,86.1 299.92,85.1 300.14,82.5 300.36,87.3 300.58,95.2 300.80,56.5 301.02,73.1 301.24,87.0 301.46,79.7 301.68,88.7 301.90,83.1 302.12,103.5 302.34,79.4 302.56,66.2 302.78,87.6 303.00,87.0 303.22,88.4 303.44,91.8 303.66,87.8 303.88,81.6 304.10,90.3 304.32,95.6 304.54,97.9 304.76,84.4 304.98,91.6 305.20,91.3 305.42,81.0 305.64,93.5 305.86,107.2 306.08,91.3 306.30,87.7 306.52,86.5 306.74,95.5 306.96,108.0 307.18,89.9 307.40,97.2 307.62,102.6 307.84,85.4 308.06,82.5 308.28,84.5 308.50,75.3 308.72,75.5 308.94,65.5 309.16,95.9 309.38,80.8 309.60,107.1 309.82,90.1 310.04,87.1 310.26,103.6 310.48,94.1 310.70,94.3 310.92,97.6 311.14,96.3 311.36,112.7 311.58,95.8 311.80,90.1 312.02,92.2 312.24,110.0 312.46,105.0 312.68,117.3 312.90,112.9 313.12,116.1 313.34,120.7 313.56,110.5 313.78,118.1 314.00,112.1 314.22,112.4 314.44,103.2" fill="none" stroke="#000" stroke-width="0.4" stroke-linejoin="round"/>
<text transform="translate(376.60 14.90) rotate(0.04)" font-size="16" text-anchor="start" fill="#1a1a1a" >(B)</text>
<line x1="424.0" y1="31.0" x2="424.0" y2="153.85" stroke="#999" stroke-width="1"/>
<line x1="421.9" y1="153.85" x2="684" y2="153.85" stroke="#999" stroke-width="1"/>
<line x1="421.9" y1="153.85" x2="424.0" y2="153.85" stroke="#999" stroke-width="1"/>
<text transform="translate(420.30 156.95) rotate(0.04) scale(0.94 1)" font-size="10.3" text-anchor="end" fill="#1a1a1a" class="sm">0</text>
<line x1="421.9" y1="92.425" x2="424.0" y2="92.425" stroke="#999" stroke-width="1"/>
<text transform="translate(420.30 95.52) rotate(0.04) scale(0.94 1)" font-size="10.3" text-anchor="end" fill="#1a1a1a" class="sm">4</text>
<line x1="421.9" y1="31.0" x2="424.0" y2="31.0" stroke="#999" stroke-width="1"/>
<text transform="translate(420.30 34.10) rotate(0.04) scale(0.94 1)" font-size="10.3" text-anchor="end" fill="#1a1a1a" class="sm">8</text>
<text transform="translate(393.4 92.4) rotate(-90)" font-size="15.6" text-anchor="middle" fill="#1a1a1a" >BFI</text>
<text transform="translate(404.8 92.2) rotate(-90)" font-size="10.0" text-anchor="middle" fill="#1a1a1a" >[10<tspan font-size="6.4" dy="-3.7">-9</tspan><tspan dy="3.7">·cm</tspan><tspan font-size="6.4" dy="-3.7">2</tspan><tspan dy="3.7">/s]</tspan></text>
<text transform="translate(683.50 26.90) rotate(0.04) scale(0.963 1)" font-size="10.2" text-anchor="end" fill="#1a1a1a" >Friedman test: <tspan font-style="italic">p</tspan>&lt;0.001</text>
<line x1="442.2" y1="54.3" x2="442.2" y2="87.1" stroke="#a8a8a8" stroke-width="0.9"/>
<line x1="442.2" y1="121.4" x2="442.2" y2="131.4" stroke="#a8a8a8" stroke-width="0.9"/>
<line x1="434.59999999999997" y1="54.3" x2="449.8" y2="54.3" stroke="#a8a8a8" stroke-width="0.9"/>
<line x1="434.59999999999997" y1="131.4" x2="449.8" y2="131.4" stroke="#a8a8a8" stroke-width="0.9"/>
<rect x="431.65" y="87.10" width="21.1" height="34.30" fill="#e0e0e0" stroke="#a6a6a6" stroke-width="0.9"/>
<line x1="431.65" y1="110.9" x2="452.75" y2="110.9" stroke="#6e6e6e" stroke-width="0.95"/>
<line x1="478.3" y1="124.4" x2="478.3" y2="124.9" stroke="#a8a8a8" stroke-width="0.9"/>
<line x1="478.3" y1="130.6" x2="478.3" y2="137.3" stroke="#a8a8a8" stroke-width="0.9"/>
<line x1="470.7" y1="124.4" x2="485.90000000000003" y2="124.4" stroke="#a8a8a8" stroke-width="0.9"/>
<line x1="470.7" y1="137.3" x2="485.90000000000003" y2="137.3" stroke="#a8a8a8" stroke-width="0.9"/>
<rect x="467.75" y="124.90" width="21.1" height="5.70" fill="#e0e0e0" stroke="#a6a6a6" stroke-width="0.9"/>
<line x1="467.75" y1="126.2" x2="488.85" y2="126.2" stroke="#6e6e6e" stroke-width="0.95"/>
<circle cx="478.3" cy="104.40" r="2.0" fill="#fff" stroke="#969696" stroke-width="0.95"/>
<line x1="514.4" y1="126.3" x2="514.4" y2="127.9" stroke="#a8a8a8" stroke-width="0.9"/>
<line x1="514.4" y1="140.5" x2="514.4" y2="146.4" stroke="#a8a8a8" stroke-width="0.9"/>
<line x1="506.79999999999995" y1="126.3" x2="522.0" y2="126.3" stroke="#a8a8a8" stroke-width="0.9"/>
<line x1="506.79999999999995" y1="146.4" x2="522.0" y2="146.4" stroke="#a8a8a8" stroke-width="0.9"/>
<rect x="503.85" y="127.90" width="21.1" height="12.60" fill="#e0e0e0" stroke="#a6a6a6" stroke-width="0.9"/>
<line x1="503.84999999999997" y1="133.4" x2="524.9499999999999" y2="133.4" stroke="#6e6e6e" stroke-width="0.95"/>
<line x1="550.5" y1="128.9" x2="550.5" y2="136.7" stroke="#a8a8a8" stroke-width="0.9"/>
<line x1="550.5" y1="148.3" x2="550.5" y2="150.3" stroke="#a8a8a8" stroke-width="0.9"/>
<line x1="542.9" y1="128.9" x2="558.1" y2="128.9" stroke="#a8a8a8" stroke-width="0.9"/>
<line x1="542.9" y1="150.3" x2="558.1" y2="150.3" stroke="#a8a8a8" stroke-width="0.9"/>
<rect x="539.95" y="136.70" width="21.1" height="11.60" fill="#e0e0e0" stroke="#a6a6a6" stroke-width="0.9"/>
<line x1="539.95" y1="141.3" x2="561.0500000000001" y2="141.3" stroke="#6e6e6e" stroke-width="0.95"/>
<line x1="586.6" y1="99.5" x2="586.6" y2="107.5" stroke="#a8a8a8" stroke-width="0.9"/>
<line x1="586.6" y1="119.4" x2="586.6" y2="127.4" stroke="#a8a8a8" stroke-width="0.9"/>
<line x1="579.0" y1="99.5" x2="594.2" y2="99.5" stroke="#a8a8a8" stroke-width="0.9"/>
<line x1="579.0" y1="127.4" x2="594.2" y2="127.4" stroke="#a8a8a8" stroke-width="0.9"/>
<rect x="576.05" y="107.50" width="21.1" height="11.90" fill="#e0e0e0" stroke="#a6a6a6" stroke-width="0.9"/>
<line x1="576.0500000000001" y1="112.4" x2="597.1500000000001" y2="112.4" stroke="#6e6e6e" stroke-width="0.95"/>
<line x1="622.7" y1="100.5" x2="622.7" y2="101.5" stroke="#a8a8a8" stroke-width="0.9"/>
<line x1="622.7" y1="110.1" x2="622.7" y2="111.4" stroke="#a8a8a8" stroke-width="0.9"/>
<line x1="615.1" y1="100.5" x2="630.3000000000001" y2="100.5" stroke="#a8a8a8" stroke-width="0.9"/>
<line x1="615.1" y1="111.4" x2="630.3000000000001" y2="111.4" stroke="#a8a8a8" stroke-width="0.9"/>
<rect x="612.15" y="101.50" width="21.1" height="8.60" fill="#e0e0e0" stroke="#a6a6a6" stroke-width="0.9"/>
<line x1="612.1500000000001" y1="105.4" x2="633.2500000000001" y2="105.4" stroke="#6e6e6e" stroke-width="0.95"/>
<circle cx="622.7" cy="70.90" r="2.0" fill="#fff" stroke="#969696" stroke-width="0.95"/>
<circle cx="622.7" cy="126.90" r="2.0" fill="#fff" stroke="#969696" stroke-width="0.95"/>
<line x1="658.8" y1="41.7" x2="658.8" y2="84.4" stroke="#a8a8a8" stroke-width="0.9"/>
<line x1="658.8" y1="116.0" x2="658.8" y2="118.3" stroke="#a8a8a8" stroke-width="0.9"/>
<line x1="651.1999999999999" y1="41.7" x2="666.4" y2="41.7" stroke="#a8a8a8" stroke-width="0.9"/>
<line x1="651.1999999999999" y1="118.3" x2="666.4" y2="118.3" stroke="#a8a8a8" stroke-width="0.9"/>
<rect x="648.25" y="84.40" width="21.1" height="31.60" fill="#e0e0e0" stroke="#a6a6a6" stroke-width="0.9"/>
<line x1="648.25" y1="107.5" x2="669.35" y2="107.5" stroke="#6e6e6e" stroke-width="0.95"/>
<text transform="translate(441.40 172.70) rotate(0.04)" font-size="11.6" text-anchor="middle" fill="#1a1a1a" >BL</text>
<text transform="translate(477.67 172.70) rotate(0.04)" font-size="11.6" text-anchor="middle" fill="#1a1a1a" >BW1</text>
<text transform="translate(513.94 172.70) rotate(0.04)" font-size="11.6" text-anchor="middle" fill="#1a1a1a" >BW2</text>
<text transform="translate(550.21 172.70) rotate(0.04)" font-size="11.6" text-anchor="middle" fill="#1a1a1a" >BW3</text>
<text transform="translate(586.48 172.70) rotate(0.04)" font-size="11.6" text-anchor="middle" fill="#1a1a1a" >BT1</text>
<text transform="translate(622.75 172.70) rotate(0.04)" font-size="11.6" text-anchor="middle" fill="#1a1a1a" >BT2</text>
<text transform="translate(659.02 172.70) rotate(0.04)" font-size="11.6" text-anchor="middle" fill="#1a1a1a" >BT3</text>
<text transform="translate(514.40 90.80) rotate(0.04)" font-size="15.8" text-anchor="middle" fill="#1a1a1a" class="st">**</text>
<text transform="translate(550.60 98.30) rotate(0.04)" font-size="15.8" text-anchor="middle" fill="#1a1a1a" class="st">**</text>
<text transform="translate(1.40 217.40) rotate(0.04)" font-size="16" text-anchor="start" fill="#1a1a1a" >(C)</text>
<line x1="55.5" y1="240.1" x2="55.5" y2="363.4" stroke="#999" stroke-width="1"/>
<line x1="53.3" y1="363.4" x2="315.7" y2="363.4" stroke="#999" stroke-width="1"/>
<line x1="53.3" y1="363.4" x2="55.5" y2="363.4" stroke="#999" stroke-width="1"/>
<text transform="translate(51.50 366.70) rotate(0.04) scale(0.94 1)" font-size="10.3" text-anchor="end" fill="#1a1a1a" class="sm">0</text>
<line x1="53.3" y1="338.74" x2="55.5" y2="338.74" stroke="#999" stroke-width="1"/>
<text transform="translate(51.50 342.04) rotate(0.04) scale(0.94 1)" font-size="10.3" text-anchor="end" fill="#1a1a1a" class="sm">50</text>
<line x1="53.3" y1="314.08" x2="55.5" y2="314.08" stroke="#999" stroke-width="1"/>
<text transform="translate(51.50 317.38) rotate(0.04) scale(0.94 1)" font-size="10.3" text-anchor="end" fill="#1a1a1a" class="sm">100</text>
<line x1="53.3" y1="289.41999999999996" x2="55.5" y2="289.41999999999996" stroke="#999" stroke-width="1"/>
<text transform="translate(51.50 292.72) rotate(0.04) scale(0.94 1)" font-size="10.3" text-anchor="end" fill="#1a1a1a" class="sm">150</text>
<line x1="53.3" y1="264.76" x2="55.5" y2="264.76" stroke="#999" stroke-width="1"/>
<text transform="translate(51.50 268.06) rotate(0.04) scale(0.94 1)" font-size="10.3" text-anchor="end" fill="#1a1a1a" class="sm">200</text>
<line x1="53.3" y1="240.1" x2="55.5" y2="240.1" stroke="#999" stroke-width="1"/>
<text transform="translate(51.50 243.40) rotate(0.04) scale(0.94 1)" font-size="10.3" text-anchor="end" fill="#1a1a1a" class="sm">250</text>
<text transform="translate(17.1 301.6) rotate(-90)" font-size="15.6" text-anchor="middle" fill="#1a1a1a" >rBFI</text>
<text transform="translate(29.3 301.8) rotate(-90)" font-size="10.0" text-anchor="middle" fill="#1a1a1a" >[%]</text>
<text transform="translate(314.70 236.70) rotate(0.04) scale(0.963 1)" font-size="10.2" text-anchor="end" fill="#1a1a1a" >Friedman test: <tspan font-style="italic">p</tspan>&lt;0.001</text>
<line x1="62.6" y1="314.3" x2="84.5" y2="314.3" stroke="#6e6e6e" stroke-width="0.95"/>
<line x1="109.83" y1="313.3" x2="109.83" y2="323.3" stroke="#a8a8a8" stroke-width="0.9"/>
<line x1="109.83" y1="341.6" x2="109.83" y2="349.0" stroke="#a8a8a8" stroke-width="0.9"/>
<line x1="102.23" y1="313.3" x2="117.42999999999999" y2="313.3" stroke="#a8a8a8" stroke-width="0.9"/>
<line x1="102.23" y1="349.0" x2="117.42999999999999" y2="349.0" stroke="#a8a8a8" stroke-width="0.9"/>
<rect x="99.08" y="323.30" width="21.5" height="18.30" fill="#e0e0e0" stroke="#a6a6a6" stroke-width="0.9"/>
<line x1="99.08" y1="330.1" x2="120.58" y2="330.1" stroke="#6e6e6e" stroke-width="0.95"/>
<line x1="145.95999999999998" y1="322.1" x2="145.95999999999998" y2="336.8" stroke="#a8a8a8" stroke-width="0.9"/>
<line x1="145.95999999999998" y1="347.6" x2="145.95999999999998" y2="358.4" stroke="#a8a8a8" stroke-width="0.9"/>
<line x1="138.35999999999999" y1="322.1" x2="153.55999999999997" y2="322.1" stroke="#a8a8a8" stroke-width="0.9"/>
<line x1="138.35999999999999" y1="358.4" x2="153.55999999999997" y2="358.4" stroke="#a8a8a8" stroke-width="0.9"/>
<rect x="135.21" y="336.80" width="21.5" height="10.80" fill="#e0e0e0" stroke="#a6a6a6" stroke-width="0.9"/>
<line x1="135.20999999999998" y1="339.7" x2="156.70999999999998" y2="339.7" stroke="#6e6e6e" stroke-width="0.95"/>
<line x1="182.09" y1="347.3" x2="182.09" y2="349.3" stroke="#a8a8a8" stroke-width="0.9"/>
<line x1="182.09" y1="356.7" x2="182.09" y2="357.8" stroke="#a8a8a8" stroke-width="0.9"/>
<line x1="174.49" y1="347.3" x2="189.69" y2="347.3" stroke="#a8a8a8" stroke-width="0.9"/>
<line x1="174.49" y1="357.8" x2="189.69" y2="357.8" stroke="#a8a8a8" stroke-width="0.9"/>
<rect x="171.34" y="349.30" width="21.5" height="7.40" fill="#e0e0e0" stroke="#a6a6a6" stroke-width="0.9"/>
<line x1="171.34" y1="355.5" x2="192.84" y2="355.5" stroke="#6e6e6e" stroke-width="0.95"/>
<circle cx="182.09" cy="323.60" r="2.0" fill="#fff" stroke="#969696" stroke-width="0.95"/>
<line x1="218.22" y1="302.4" x2="218.22" y2="306.4" stroke="#a8a8a8" stroke-width="0.9"/>
<line x1="218.22" y1="334.4" x2="218.22" y2="340.7" stroke="#a8a8a8" stroke-width="0.9"/>
<line x1="210.62" y1="302.4" x2="225.82" y2="302.4" stroke="#a8a8a8" stroke-width="0.9"/>
<line x1="210.62" y1="340.7" x2="225.82" y2="340.7" stroke="#a8a8a8" stroke-width="0.9"/>
<rect x="207.47" y="306.40" width="21.5" height="28.00" fill="#e0e0e0" stroke="#a6a6a6" stroke-width="0.9"/>
<line x1="207.47" y1="323.6" x2="228.97" y2="323.6" stroke="#6e6e6e" stroke-width="0.95"/>
<circle cx="218.22" cy="259.60" r="2.0" fill="#fff" stroke="#969696" stroke-width="0.95"/>
<line x1="254.35" y1="287.0" x2="254.35" y2="304.1" stroke="#a8a8a8" stroke-width="0.9"/>
<line x1="254.35" y1="320.1" x2="254.35" y2="327.0" stroke="#a8a8a8" stroke-width="0.9"/>
<line x1="246.75" y1="287.0" x2="261.95" y2="287.0" stroke="#a8a8a8" stroke-width="0.9"/>
<line x1="246.75" y1="327.0" x2="261.95" y2="327.0" stroke="#a8a8a8" stroke-width="0.9"/>
<rect x="243.60" y="304.10" width="21.5" height="16.00" fill="#e0e0e0" stroke="#a6a6a6" stroke-width="0.9"/>
<line x1="243.6" y1="310.7" x2="265.1" y2="310.7" stroke="#6e6e6e" stroke-width="0.95"/>
<line x1="290.48" y1="279.0" x2="290.48" y2="283.3" stroke="#a8a8a8" stroke-width="0.9"/>
<line x1="290.48" y1="311.0" x2="290.48" y2="339.3" stroke="#a8a8a8" stroke-width="0.9"/>
<line x1="282.88" y1="279.0" x2="298.08000000000004" y2="279.0" stroke="#a8a8a8" stroke-width="0.9"/>
<line x1="282.88" y1="339.3" x2="298.08000000000004" y2="339.3" stroke="#a8a8a8" stroke-width="0.9"/>
<rect x="279.73" y="283.30" width="21.5" height="27.70" fill="#e0e0e0" stroke="#a6a6a6" stroke-width="0.9"/>
<line x1="279.73" y1="297.3" x2="301.23" y2="297.3" stroke="#6e6e6e" stroke-width="0.95"/>
<text transform="translate(72.80 382.30) rotate(0.04)" font-size="11.6" text-anchor="middle" fill="#1a1a1a" >BL</text>
<text transform="translate(108.99 382.30) rotate(0.04)" font-size="11.6" text-anchor="middle" fill="#1a1a1a" >BW1</text>
<text transform="translate(145.18 382.30) rotate(0.04)" font-size="11.6" text-anchor="middle" fill="#1a1a1a" >BW2</text>
<text transform="translate(181.37 382.30) rotate(0.04)" font-size="11.6" text-anchor="middle" fill="#1a1a1a" >BW3</text>
<text transform="translate(217.56 382.30) rotate(0.04)" font-size="11.6" text-anchor="middle" fill="#1a1a1a" >BT1</text>
<text transform="translate(253.75 382.30) rotate(0.04)" font-size="11.6" text-anchor="middle" fill="#1a1a1a" >BT2</text>
<text transform="translate(289.94 382.30) rotate(0.04)" font-size="11.6" text-anchor="middle" fill="#1a1a1a" >BT3</text>
<text transform="translate(145.70 300.60) rotate(0.04)" font-size="15.8" text-anchor="middle" fill="#1a1a1a" class="st">**</text>
<text transform="translate(181.90 307.90) rotate(0.04)" font-size="15.8" text-anchor="middle" fill="#1a1a1a" class="st">**</text>
<text transform="translate(416.60 362.00) rotate(0.04)" font-size="15.8" text-anchor="middle" fill="#1a1a1a" class="st">*</text>
<text transform="translate(416.60 377.00) rotate(0.04)" font-size="15.8" text-anchor="middle" fill="#1a1a1a" class="st">**</text>
<text transform="translate(428.00 359.70) rotate(0.04) scale(0.965 1)" font-size="10.2" text-anchor="start" fill="#1a1a1a" >: <tspan font-style="italic">p</tspan>&lt;0.05 compared to BL</text>
<text transform="translate(428.00 374.10) rotate(0.04) scale(0.965 1)" font-size="10.2" text-anchor="start" fill="#1a1a1a" >: <tspan font-style="italic">p</tspan>&lt;0.01 compared to BL</text>
</svg>
</body>
</html>
